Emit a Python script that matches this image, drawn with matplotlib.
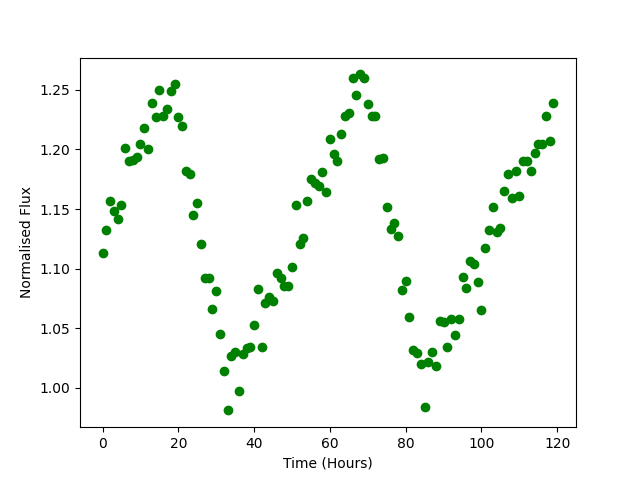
import numpy as np
import matplotlib
matplotlib.use('Agg')
import matplotlib.pyplot as plt

# time in hours, one reading per hour
time_hours = np.arange(120)

flux = [
    1.113, 1.132, 1.157, 1.148, 1.142, 1.153, 1.201, 1.190, 1.191, 1.194,
    1.205, 1.218, 1.200, 1.239, 1.227, 1.250, 1.228, 1.234, 1.249, 1.255,
    1.227, 1.220, 1.182, 1.179, 1.145, 1.155, 1.121, 1.092, 1.092, 1.066,
    1.081, 1.045, 1.014, 0.981, 1.027, 1.030, 0.997, 1.028, 1.033, 1.034,
    1.053, 1.083, 1.034, 1.071, 1.076, 1.073, 1.096, 1.092, 1.085, 1.085,
    1.101, 1.153, 1.121, 1.126, 1.157, 1.175, 1.172, 1.169, 1.181, 1.164,
    1.209, 1.196, 1.190, 1.213, 1.228, 1.231, 1.260, 1.246, 1.263, 1.260,
    1.238, 1.228, 1.228, 1.192, 1.193, 1.152, 1.133, 1.138, 1.127, 1.082,
    1.090, 1.059, 1.032, 1.029, 1.020, 0.984, 1.022, 1.030, 1.018, 1.056,
    1.055, 1.034, 1.058, 1.044, 1.058, 1.093, 1.084, 1.106, 1.104, 1.089,
    1.065, 1.117, 1.132, 1.152, 1.131, 1.134, 1.165, 1.179, 1.159, 1.182,
    1.161, 1.190, 1.190, 1.182, 1.197, 1.205, 1.205, 1.228, 1.207, 1.239,
]

plt.figure(figsize=(6.4, 4.8), dpi=100)
plt.plot(time_hours, flux, 'go')
plt.xlabel('Time (Hours)')
plt.ylabel('Normalised Flux')
plt.savefig('out.png')
plt.close()
